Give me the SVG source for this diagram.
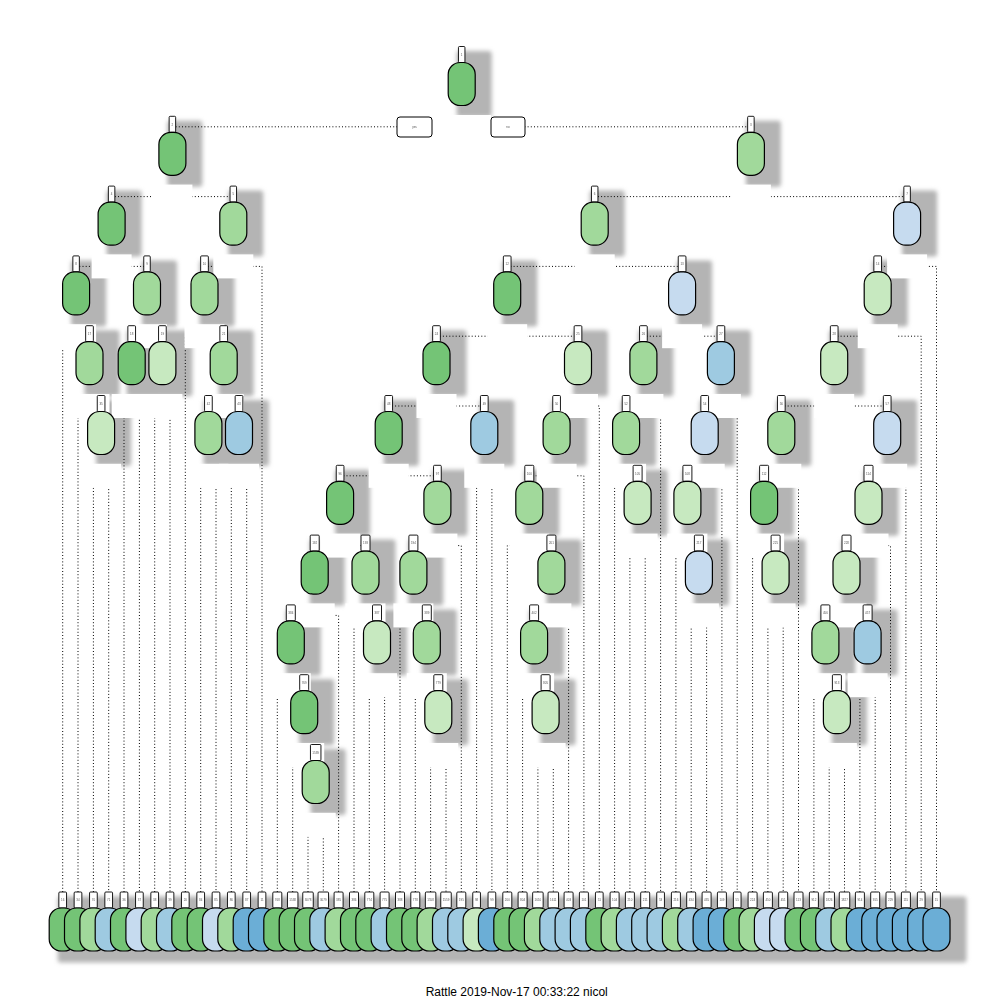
<svg xmlns="http://www.w3.org/2000/svg" xmlns:xlink="http://www.w3.org/1999/xlink" width="1000" height="1000" viewBox="0 0 1000 1000">
<style>
.ln{fill:none;stroke:#000;stroke-width:1;stroke-dasharray:1 2.2}
.tg{fill:#fff;stroke:#000;stroke-width:0.9}
.tt{font-family:"Liberation Sans",Arial,sans-serif;font-size:3px;fill:#555;text-anchor:middle}
.c1{fill:#74c476}.c2{fill:#a1d99b}.c3{fill:#c7e9c0}
.b1{fill:#6baed6}.b2{fill:#9ecae1}.b3{fill:#c6dbef}
.lbx{fill:#fff}
</style>
<defs>
<filter id="blur" x="-50%" y="-50%" width="200%" height="200%"><feGaussianBlur stdDeviation="2"/></filter>
<rect id="sh" x="-5" y="-33" width="35" height="66" rx="3"/>
<rect id="cap" x="-13.5" y="-21.5" width="27" height="43" rx="12" stroke="#000" stroke-width="1.2"/>
<rect id="t1" x="-3.25" y="-37.5" width="6.5" height="16" rx="1"/>
<rect id="t2" x="-3.85" y="-37.5" width="7.7" height="16" rx="1"/>
<rect id="t3" x="-4.5" y="-37.5" width="9" height="16" rx="1"/>
<rect id="t4" x="-5.25" y="-37.5" width="10.5" height="16" rx="1"/>
<rect id="lb" x="-20" y="-12" width="40" height="24"/>
</defs>
<rect width="1000" height="1000" fill="#fff"/>
<g id="shadows" fill="#b4b4b4" filter="url(#blur)">
<use href="#sh" x="461.7" y="84"/><use href="#sh" x="172.4" y="153.8"/><use href="#sh" x="750.9" y="153.8"/>
<use href="#sh" x="111.6" y="223.6"/><use href="#sh" x="233.3" y="223.6"/><use href="#sh" x="594.7" y="223.6"/><use href="#sh" x="907.1" y="223.6"/>
<use href="#sh" x="76.1" y="293.4"/><use href="#sh" x="147" y="293.4"/><use href="#sh" x="204.5" y="293.4"/><use href="#sh" x="507.2" y="293.4"/><use href="#sh" x="682.1" y="293.4"/><use href="#sh" x="877.7" y="293.4"/>
<use href="#sh" x="89.5" y="363.2"/><use href="#sh" x="131.7" y="363.2"/><use href="#sh" x="162.4" y="363.2"/><use href="#sh" x="223.7" y="363.2"/><use href="#sh" x="436.5" y="363.2"/><use href="#sh" x="578" y="363.2"/><use href="#sh" x="643.4" y="363.2"/><use href="#sh" x="720.9" y="363.2"/><use href="#sh" x="834.2" y="363.2"/>
<use href="#sh" x="101.1" y="433"/><use href="#sh" x="208.4" y="433"/><use href="#sh" x="239" y="433"/><use href="#sh" x="388.7" y="433"/><use href="#sh" x="484.3" y="433"/><use href="#sh" x="556.6" y="433"/><use href="#sh" x="626.1" y="433"/><use href="#sh" x="704.7" y="433"/><use href="#sh" x="781.3" y="433"/><use href="#sh" x="887.2" y="433"/>
<use href="#sh" x="340.1" y="502.8"/><use href="#sh" x="437.4" y="502.8"/><use href="#sh" x="529.3" y="502.8"/><use href="#sh" x="637.6" y="502.8"/><use href="#sh" x="687.4" y="502.8"/><use href="#sh" x="764.1" y="502.8"/><use href="#sh" x="868.5" y="502.8"/>
<use href="#sh" x="314.7" y="572.6"/><use href="#sh" x="365.5" y="572.6"/><use href="#sh" x="413.4" y="572.6"/><use href="#sh" x="551.4" y="572.6"/><use href="#sh" x="698.9" y="572.6"/><use href="#sh" x="775.6" y="572.6"/><use href="#sh" x="846.5" y="572.6"/>
<use href="#sh" x="290.8" y="642.4"/><use href="#sh" x="377" y="642.4"/><use href="#sh" x="426.8" y="642.4"/><use href="#sh" x="534.1" y="642.4"/><use href="#sh" x="825.4" y="642.4"/><use href="#sh" x="867.6" y="642.4"/>
<use href="#sh" x="304.2" y="712.2"/><use href="#sh" x="438.3" y="712.2"/><use href="#sh" x="545.6" y="712.2"/><use href="#sh" x="836.9" y="712.2"/>
<use href="#sh" x="315.7" y="782"/>
<rect x="57.7" y="896.5" width="908.8" height="66" rx="3"/>
</g>
<g id="connectors" class="ln">
<path d="M172.4 126.8H750.9"/>
<path d="M111.6 196.6H233.3M594.7 196.6H907.1"/>
<path d="M76.1 266.4H147M204.5 266.4H262V892M507.2 266.4H682.1M877.7 266.4H936.5V892"/>
<path d="M62.7 892V336.2H89.5M131.7 336.2H162.4M185.3 892V336.2H223.7M436.5 336.2H578M643.4 336.2H720.9M834.2 336.2H921.2V892"/>
<path d="M78 892V406H101.1M124 892V406H139.4V892M154.7 892V406H170V892M208.4 406H239M388.7 406H484.3M556.6 406H599.3V892M626.1 406H660.6V892M704.7 406H737.2V892M781.3 406H887.2"/>
<path d="M93.4 892V475.8H108.7V892M200.7 892V475.8H216V892M231.3 892V475.8H246.7V892M340.1 475.8H437.4M476.6 892V475.8H491.9V892M529.3 475.8H583.9V892M614.6 892V475.8H637.6M687.4 475.8H721.9V892M764.1 475.8H798.5V892M868.5 475.8H905.9V892"/>
<path d="M314.7 545.6H365.5M413.4 545.6H461.3V892M507.3 892V545.6H551.4M629.9 892V545.6H645.2V892M675.9 892V545.6H698.9M752.6 892V545.6H775.6M846.5 545.6H890.5V892"/>
<path d="M290.8 615.4H338.6V892M354 892V615.4H377M400 892V615.4H426.8M534.1 615.4H568.6V892M691.2 892V615.4H706.6V892M767.9 892V615.4H783.2V892M825.4 615.4H867.6"/>
<path d="M277.3 892V685.2H304.2M369.3 892V685.2H384.6V892M415.3 892V685.2H438.3M522.6 892V685.2H545.6M813.9 892V685.2H836.9M859.9 892V685.2H875.2V892"/>
<path d="M292.7 892V755H315.7M430.6 892V755H446V892M537.9 892V755H553.3V892M829.2 892V755H844.5V892"/>
<path d="M308 892V824.8H323.3V892"/>
</g>
<g id="labels" class="lbx">
<rect x="432" y="115" width="59" height="24"/>
<use href="#lb" x="172.4" y="196.6"/><use href="#lb" x="750.9" y="196.6"/>
<use href="#lb" x="111.6" y="266.4"/><use href="#lb" x="233.3" y="266.4"/><use href="#lb" x="594.7" y="266.4"/><use href="#lb" x="907.1" y="266.4"/>
<use href="#lb" x="76.1" y="336.2"/><use href="#lb" x="147" y="336.2"/><use href="#lb" x="204.5" y="336.2"/><use href="#lb" x="507.2" y="336.2"/><use href="#lb" x="682.1" y="336.2"/><use href="#lb" x="877.7" y="336.2"/>
<use href="#lb" x="89.5" y="406"/><use href="#lb" x="131.7" y="406"/><use href="#lb" x="162.4" y="406"/><use href="#lb" x="223.7" y="406"/><use href="#lb" x="436.5" y="406"/><use href="#lb" x="578" y="406"/><use href="#lb" x="643.4" y="406"/><use href="#lb" x="720.9" y="406"/><use href="#lb" x="834.2" y="406"/>
<use href="#lb" x="101.1" y="475.8"/><use href="#lb" x="208.4" y="475.8"/><use href="#lb" x="239" y="475.8"/><use href="#lb" x="388.7" y="475.8"/><use href="#lb" x="484.3" y="475.8"/><use href="#lb" x="556.6" y="475.8"/><use href="#lb" x="626.1" y="475.8"/><use href="#lb" x="704.7" y="475.8"/><use href="#lb" x="781.3" y="475.8"/><use href="#lb" x="887.2" y="475.8"/>
<use href="#lb" x="340.1" y="545.6"/><use href="#lb" x="437.4" y="545.6"/><use href="#lb" x="529.3" y="545.6"/><use href="#lb" x="637.6" y="545.6"/><use href="#lb" x="687.4" y="545.6"/><use href="#lb" x="764.1" y="545.6"/><use href="#lb" x="868.5" y="545.6"/>
<use href="#lb" x="314.7" y="615.4"/><use href="#lb" x="365.5" y="615.4"/><use href="#lb" x="413.4" y="615.4"/><use href="#lb" x="551.4" y="615.4"/><use href="#lb" x="698.9" y="615.4"/><use href="#lb" x="775.6" y="615.4"/><use href="#lb" x="846.5" y="615.4"/>
<use href="#lb" x="290.8" y="685.2"/><use href="#lb" x="377" y="685.2"/><use href="#lb" x="426.8" y="685.2"/><use href="#lb" x="534.1" y="685.2"/><use href="#lb" x="825.4" y="685.2"/><use href="#lb" x="867.6" y="685.2"/>
<use href="#lb" x="304.2" y="755"/><use href="#lb" x="438.3" y="755"/><use href="#lb" x="545.6" y="755"/><use href="#lb" x="836.9" y="755"/>
<use href="#lb" x="315.7" y="824.8"/>
</g>
<g id="yesno">
<rect x="397" y="117" width="35" height="20" rx="3" fill="#fff" stroke="#000" stroke-width="1"/>
<text class="tt" x="414.5" y="128">yes</text>
<rect x="491" y="117" width="34" height="20" rx="3" fill="#fff" stroke="#000" stroke-width="1"/>
<text class="tt" x="508" y="128">no</text>
</g>
<g id="nodes">
<g id="node-1" transform="translate(461.7,84)"><use href="#t1" class="tg"/><text class="tt" y="-28.3">1</text><use href="#cap" class="c1"/></g>
<g id="node-2" transform="translate(172.4,153.8)"><use href="#t1" class="tg"/><text class="tt" y="-28.3">2</text><use href="#cap" class="c1"/></g>
<g id="node-3" transform="translate(750.9,153.8)"><use href="#t1" class="tg"/><text class="tt" y="-28.3">3</text><use href="#cap" class="c2"/></g>
<g id="node-4" transform="translate(111.6,223.6)"><use href="#t1" class="tg"/><text class="tt" y="-28.3">4</text><use href="#cap" class="c1"/></g>
<g id="node-5" transform="translate(233.3,223.6)"><use href="#t1" class="tg"/><text class="tt" y="-28.3">5</text><use href="#cap" class="c2"/></g>
<g id="node-6" transform="translate(594.7,223.6)"><use href="#t1" class="tg"/><text class="tt" y="-28.3">6</text><use href="#cap" class="c2"/></g>
<g id="node-7" transform="translate(907.1,223.6)"><use href="#t1" class="tg"/><text class="tt" y="-28.3">7</text><use href="#cap" class="b3"/></g>
<g id="node-8" transform="translate(76.1,293.4)"><use href="#t1" class="tg"/><text class="tt" y="-28.3">8</text><use href="#cap" class="c1"/></g>
<g id="node-9" transform="translate(147,293.4)"><use href="#t1" class="tg"/><text class="tt" y="-28.3">9</text><use href="#cap" class="c2"/></g>
<g id="node-10" transform="translate(204.5,293.4)"><use href="#t2" class="tg"/><text class="tt" y="-28.3">10</text><use href="#cap" class="c2"/></g>
<g id="node-12" transform="translate(507.2,293.4)"><use href="#t2" class="tg"/><text class="tt" y="-28.3">12</text><use href="#cap" class="c1"/></g>
<g id="node-13" transform="translate(682.1,293.4)"><use href="#t2" class="tg"/><text class="tt" y="-28.3">13</text><use href="#cap" class="b3"/></g>
<g id="node-14" transform="translate(877.7,293.4)"><use href="#t2" class="tg"/><text class="tt" y="-28.3">14</text><use href="#cap" class="c3"/></g>
<g id="node-17" transform="translate(89.5,363.2)"><use href="#t2" class="tg"/><text class="tt" y="-28.3">17</text><use href="#cap" class="c2"/></g>
<g id="node-18" transform="translate(131.7,363.2)"><use href="#t2" class="tg"/><text class="tt" y="-28.3">18</text><use href="#cap" class="c1"/></g>
<g id="node-19" transform="translate(162.4,363.2)"><use href="#t2" class="tg"/><text class="tt" y="-28.3">19</text><use href="#cap" class="c3"/></g>
<g id="node-21" transform="translate(223.7,363.2)"><use href="#t2" class="tg"/><text class="tt" y="-28.3">21</text><use href="#cap" class="c2"/></g>
<g id="node-24" transform="translate(436.5,363.2)"><use href="#t2" class="tg"/><text class="tt" y="-28.3">24</text><use href="#cap" class="c1"/></g>
<g id="node-25" transform="translate(578,363.2)"><use href="#t2" class="tg"/><text class="tt" y="-28.3">25</text><use href="#cap" class="c3"/></g>
<g id="node-26" transform="translate(643.4,363.2)"><use href="#t2" class="tg"/><text class="tt" y="-28.3">26</text><use href="#cap" class="c2"/></g>
<g id="node-27" transform="translate(720.9,363.2)"><use href="#t2" class="tg"/><text class="tt" y="-28.3">27</text><use href="#cap" class="b2"/></g>
<g id="node-28" transform="translate(834.2,363.2)"><use href="#t2" class="tg"/><text class="tt" y="-28.3">28</text><use href="#cap" class="c3"/></g>
<g id="node-35" transform="translate(101.1,433)"><use href="#t2" class="tg"/><text class="tt" y="-28.3">35</text><use href="#cap" class="c3"/></g>
<g id="node-42" transform="translate(208.4,433)"><use href="#t2" class="tg"/><text class="tt" y="-28.3">42</text><use href="#cap" class="c2"/></g>
<g id="node-43" transform="translate(239,433)"><use href="#t2" class="tg"/><text class="tt" y="-28.3">43</text><use href="#cap" class="b2"/></g>
<g id="node-48" transform="translate(388.7,433)"><use href="#t2" class="tg"/><text class="tt" y="-28.3">48</text><use href="#cap" class="c1"/></g>
<g id="node-49" transform="translate(484.3,433)"><use href="#t2" class="tg"/><text class="tt" y="-28.3">49</text><use href="#cap" class="b2"/></g>
<g id="node-50" transform="translate(556.6,433)"><use href="#t2" class="tg"/><text class="tt" y="-28.3">50</text><use href="#cap" class="c2"/></g>
<g id="node-52" transform="translate(626.1,433)"><use href="#t2" class="tg"/><text class="tt" y="-28.3">52</text><use href="#cap" class="c2"/></g>
<g id="node-54" transform="translate(704.7,433)"><use href="#t2" class="tg"/><text class="tt" y="-28.3">54</text><use href="#cap" class="b3"/></g>
<g id="node-56" transform="translate(781.3,433)"><use href="#t2" class="tg"/><text class="tt" y="-28.3">56</text><use href="#cap" class="c2"/></g>
<g id="node-57" transform="translate(887.2,433)"><use href="#t2" class="tg"/><text class="tt" y="-28.3">57</text><use href="#cap" class="b3"/></g>
<g id="node-96" transform="translate(340.1,502.8)"><use href="#t2" class="tg"/><text class="tt" y="-28.3">96</text><use href="#cap" class="c1"/></g>
<g id="node-97" transform="translate(437.4,502.8)"><use href="#t2" class="tg"/><text class="tt" y="-28.3">97</text><use href="#cap" class="c2"/></g>
<g id="node-100" transform="translate(529.3,502.8)"><use href="#t3" class="tg"/><text class="tt" y="-28.3">100</text><use href="#cap" class="c2"/></g>
<g id="node-105" transform="translate(637.6,502.8)"><use href="#t3" class="tg"/><text class="tt" y="-28.3">105</text><use href="#cap" class="c3"/></g>
<g id="node-108" transform="translate(687.4,502.8)"><use href="#t3" class="tg"/><text class="tt" y="-28.3">108</text><use href="#cap" class="c3"/></g>
<g id="node-112" transform="translate(764.1,502.8)"><use href="#t3" class="tg"/><text class="tt" y="-28.3">112</text><use href="#cap" class="c1"/></g>
<g id="node-114" transform="translate(868.5,502.8)"><use href="#t3" class="tg"/><text class="tt" y="-28.3">114</text><use href="#cap" class="c3"/></g>
<g id="node-192" transform="translate(314.7,572.6)"><use href="#t3" class="tg"/><text class="tt" y="-28.3">192</text><use href="#cap" class="c1"/></g>
<g id="node-193" transform="translate(365.5,572.6)"><use href="#t3" class="tg"/><text class="tt" y="-28.3">193</text><use href="#cap" class="c2"/></g>
<g id="node-194" transform="translate(413.4,572.6)"><use href="#t3" class="tg"/><text class="tt" y="-28.3">194</text><use href="#cap" class="c2"/></g>
<g id="node-201" transform="translate(551.4,572.6)"><use href="#t3" class="tg"/><text class="tt" y="-28.3">201</text><use href="#cap" class="c2"/></g>
<g id="node-217" transform="translate(698.9,572.6)"><use href="#t3" class="tg"/><text class="tt" y="-28.3">217</text><use href="#cap" class="b3"/></g>
<g id="node-225" transform="translate(775.6,572.6)"><use href="#t3" class="tg"/><text class="tt" y="-28.3">225</text><use href="#cap" class="c3"/></g>
<g id="node-228" transform="translate(846.5,572.6)"><use href="#t3" class="tg"/><text class="tt" y="-28.3">228</text><use href="#cap" class="c3"/></g>
<g id="node-384" transform="translate(290.8,642.4)"><use href="#t3" class="tg"/><text class="tt" y="-28.3">384</text><use href="#cap" class="c1"/></g>
<g id="node-387" transform="translate(377,642.4)"><use href="#t3" class="tg"/><text class="tt" y="-28.3">387</text><use href="#cap" class="c3"/></g>
<g id="node-389" transform="translate(426.8,642.4)"><use href="#t3" class="tg"/><text class="tt" y="-28.3">389</text><use href="#cap" class="c2"/></g>
<g id="node-402" transform="translate(534.1,642.4)"><use href="#t3" class="tg"/><text class="tt" y="-28.3">402</text><use href="#cap" class="c2"/></g>
<g id="node-456" transform="translate(825.4,642.4)"><use href="#t3" class="tg"/><text class="tt" y="-28.3">456</text><use href="#cap" class="c2"/></g>
<g id="node-457" transform="translate(867.6,642.4)"><use href="#t3" class="tg"/><text class="tt" y="-28.3">457</text><use href="#cap" class="b2"/></g>
<g id="node-769" transform="translate(304.2,712.2)"><use href="#t3" class="tg"/><text class="tt" y="-28.3">769</text><use href="#cap" class="c1"/></g>
<g id="node-779" transform="translate(438.3,712.2)"><use href="#t3" class="tg"/><text class="tt" y="-28.3">779</text><use href="#cap" class="c3"/></g>
<g id="node-805" transform="translate(545.6,712.2)"><use href="#t3" class="tg"/><text class="tt" y="-28.3">805</text><use href="#cap" class="c3"/></g>
<g id="node-913" transform="translate(836.9,712.2)"><use href="#t3" class="tg"/><text class="tt" y="-28.3">913</text><use href="#cap" class="c3"/></g>
<g id="node-1539" transform="translate(315.7,782)"><use href="#t4" class="tg"/><text class="tt" y="-28.3">1539</text><use href="#cap" class="c2"/></g>
</g>
<g id="leaves">
<g id="node-16" transform="translate(62.7,929.5)"><use href="#t2" class="tg"/><text class="tt" y="-28.3">16</text><use href="#cap" class="c1"/></g>
<g id="node-34" transform="translate(78,929.5)"><use href="#t2" class="tg"/><text class="tt" y="-28.3">34</text><use href="#cap" class="c1"/></g>
<g id="node-70" transform="translate(93.4,929.5)"><use href="#t2" class="tg"/><text class="tt" y="-28.3">70</text><use href="#cap" class="c2"/></g>
<g id="node-71" transform="translate(108.7,929.5)"><use href="#t2" class="tg"/><text class="tt" y="-28.3">71</text><use href="#cap" class="b2"/></g>
<g id="node-36" transform="translate(124,929.5)"><use href="#t2" class="tg"/><text class="tt" y="-28.3">36</text><use href="#cap" class="c1"/></g>
<g id="node-37" transform="translate(139.4,929.5)"><use href="#t2" class="tg"/><text class="tt" y="-28.3">37</text><use href="#cap" class="b3"/></g>
<g id="node-38" transform="translate(154.7,929.5)"><use href="#t2" class="tg"/><text class="tt" y="-28.3">38</text><use href="#cap" class="c2"/></g>
<g id="node-39" transform="translate(170,929.5)"><use href="#t2" class="tg"/><text class="tt" y="-28.3">39</text><use href="#cap" class="b2"/></g>
<g id="node-20" transform="translate(185.3,929.5)"><use href="#t2" class="tg"/><text class="tt" y="-28.3">20</text><use href="#cap" class="c1"/></g>
<g id="node-84" transform="translate(200.7,929.5)"><use href="#t2" class="tg"/><text class="tt" y="-28.3">84</text><use href="#cap" class="c1"/></g>
<g id="node-85" transform="translate(216,929.5)"><use href="#t2" class="tg"/><text class="tt" y="-28.3">85</text><use href="#cap" class="b3"/></g>
<g id="node-86" transform="translate(231.3,929.5)"><use href="#t2" class="tg"/><text class="tt" y="-28.3">86</text><use href="#cap" class="c2"/></g>
<g id="node-87" transform="translate(246.7,929.5)"><use href="#t2" class="tg"/><text class="tt" y="-28.3">87</text><use href="#cap" class="b1"/></g>
<g id="node-11" transform="translate(262,929.5)"><use href="#t2" class="tg"/><text class="tt" y="-28.3">11</text><use href="#cap" class="b1"/></g>
<g id="node-768" transform="translate(277.3,929.5)"><use href="#t3" class="tg"/><text class="tt" y="-28.3">768</text><use href="#cap" class="c1"/></g>
<g id="node-1538" transform="translate(292.7,929.5)"><use href="#t4" class="tg"/><text class="tt" y="-28.3">1538</text><use href="#cap" class="c1"/></g>
<g id="node-3078" transform="translate(308,929.5)"><use href="#t4" class="tg"/><text class="tt" y="-28.3">3078</text><use href="#cap" class="c1"/></g>
<g id="node-3079" transform="translate(323.3,929.5)"><use href="#t4" class="tg"/><text class="tt" y="-28.3">3079</text><use href="#cap" class="b2"/></g>
<g id="node-385" transform="translate(338.6,929.5)"><use href="#t3" class="tg"/><text class="tt" y="-28.3">385</text><use href="#cap" class="c2"/></g>
<g id="node-386" transform="translate(354,929.5)"><use href="#t3" class="tg"/><text class="tt" y="-28.3">386</text><use href="#cap" class="c1"/></g>
<g id="node-774" transform="translate(369.3,929.5)"><use href="#t3" class="tg"/><text class="tt" y="-28.3">774</text><use href="#cap" class="c1"/></g>
<g id="node-775" transform="translate(384.6,929.5)"><use href="#t3" class="tg"/><text class="tt" y="-28.3">775</text><use href="#cap" class="b2"/></g>
<g id="node-388" transform="translate(400,929.5)"><use href="#t3" class="tg"/><text class="tt" y="-28.3">388</text><use href="#cap" class="c1"/></g>
<g id="node-778" transform="translate(415.3,929.5)"><use href="#t3" class="tg"/><text class="tt" y="-28.3">778</text><use href="#cap" class="c1"/></g>
<g id="node-1558" transform="translate(430.6,929.5)"><use href="#t4" class="tg"/><text class="tt" y="-28.3">1558</text><use href="#cap" class="c2"/></g>
<g id="node-1559" transform="translate(446,929.5)"><use href="#t4" class="tg"/><text class="tt" y="-28.3">1559</text><use href="#cap" class="b2"/></g>
<g id="node-195" transform="translate(461.3,929.5)"><use href="#t3" class="tg"/><text class="tt" y="-28.3">195</text><use href="#cap" class="b2"/></g>
<g id="node-98" transform="translate(476.6,929.5)"><use href="#t2" class="tg"/><text class="tt" y="-28.3">98</text><use href="#cap" class="c3"/></g>
<g id="node-99" transform="translate(491.9,929.5)"><use href="#t2" class="tg"/><text class="tt" y="-28.3">99</text><use href="#cap" class="b1"/></g>
<g id="node-200" transform="translate(507.3,929.5)"><use href="#t3" class="tg"/><text class="tt" y="-28.3">200</text><use href="#cap" class="c1"/></g>
<g id="node-804" transform="translate(522.6,929.5)"><use href="#t3" class="tg"/><text class="tt" y="-28.3">804</text><use href="#cap" class="c1"/></g>
<g id="node-1610" transform="translate(537.9,929.5)"><use href="#t4" class="tg"/><text class="tt" y="-28.3">1610</text><use href="#cap" class="c2"/></g>
<g id="node-1611" transform="translate(553.3,929.5)"><use href="#t4" class="tg"/><text class="tt" y="-28.3">1611</text><use href="#cap" class="b2"/></g>
<g id="node-403" transform="translate(568.6,929.5)"><use href="#t3" class="tg"/><text class="tt" y="-28.3">403</text><use href="#cap" class="b2"/></g>
<g id="node-101" transform="translate(583.9,929.5)"><use href="#t3" class="tg"/><text class="tt" y="-28.3">101</text><use href="#cap" class="b2"/></g>
<g id="node-51" transform="translate(599.3,929.5)"><use href="#t2" class="tg"/><text class="tt" y="-28.3">51</text><use href="#cap" class="c1"/></g>
<g id="node-104" transform="translate(614.6,929.5)"><use href="#t3" class="tg"/><text class="tt" y="-28.3">104</text><use href="#cap" class="c2"/></g>
<g id="node-210" transform="translate(629.9,929.5)"><use href="#t3" class="tg"/><text class="tt" y="-28.3">210</text><use href="#cap" class="b2"/></g>
<g id="node-211" transform="translate(645.2,929.5)"><use href="#t3" class="tg"/><text class="tt" y="-28.3">211</text><use href="#cap" class="b2"/></g>
<g id="node-53" transform="translate(660.6,929.5)"><use href="#t2" class="tg"/><text class="tt" y="-28.3">53</text><use href="#cap" class="b2"/></g>
<g id="node-216" transform="translate(675.9,929.5)"><use href="#t3" class="tg"/><text class="tt" y="-28.3">216</text><use href="#cap" class="c2"/></g>
<g id="node-434" transform="translate(691.2,929.5)"><use href="#t3" class="tg"/><text class="tt" y="-28.3">434</text><use href="#cap" class="b2"/></g>
<g id="node-435" transform="translate(706.6,929.5)"><use href="#t3" class="tg"/><text class="tt" y="-28.3">435</text><use href="#cap" class="b1"/></g>
<g id="node-109" transform="translate(721.9,929.5)"><use href="#t3" class="tg"/><text class="tt" y="-28.3">109</text><use href="#cap" class="b1"/></g>
<g id="node-55" transform="translate(737.2,929.5)"><use href="#t2" class="tg"/><text class="tt" y="-28.3">55</text><use href="#cap" class="c1"/></g>
<g id="node-224" transform="translate(752.6,929.5)"><use href="#t3" class="tg"/><text class="tt" y="-28.3">224</text><use href="#cap" class="c2"/></g>
<g id="node-450" transform="translate(767.9,929.5)"><use href="#t3" class="tg"/><text class="tt" y="-28.3">450</text><use href="#cap" class="b3"/></g>
<g id="node-451" transform="translate(783.2,929.5)"><use href="#t3" class="tg"/><text class="tt" y="-28.3">451</text><use href="#cap" class="b3"/></g>
<g id="node-113" transform="translate(798.5,929.5)"><use href="#t3" class="tg"/><text class="tt" y="-28.3">113</text><use href="#cap" class="c1"/></g>
<g id="node-912" transform="translate(813.9,929.5)"><use href="#t3" class="tg"/><text class="tt" y="-28.3">912</text><use href="#cap" class="c1"/></g>
<g id="node-1826" transform="translate(829.2,929.5)"><use href="#t4" class="tg"/><text class="tt" y="-28.3">1826</text><use href="#cap" class="b2"/></g>
<g id="node-1827" transform="translate(844.5,929.5)"><use href="#t4" class="tg"/><text class="tt" y="-28.3">1827</text><use href="#cap" class="c2"/></g>
<g id="node-914" transform="translate(859.9,929.5)"><use href="#t3" class="tg"/><text class="tt" y="-28.3">914</text><use href="#cap" class="b1"/></g>
<g id="node-915" transform="translate(875.2,929.5)"><use href="#t3" class="tg"/><text class="tt" y="-28.3">915</text><use href="#cap" class="b1"/></g>
<g id="node-229" transform="translate(890.5,929.5)"><use href="#t3" class="tg"/><text class="tt" y="-28.3">229</text><use href="#cap" class="b1"/></g>
<g id="node-115" transform="translate(905.9,929.5)"><use href="#t3" class="tg"/><text class="tt" y="-28.3">115</text><use href="#cap" class="b1"/></g>
<g id="node-29" transform="translate(921.2,929.5)"><use href="#t2" class="tg"/><text class="tt" y="-28.3">29</text><use href="#cap" class="b1"/></g>
<g id="node-15" transform="translate(936.5,929.5)"><use href="#t2" class="tg"/><text class="tt" y="-28.3">15</text><use href="#cap" class="b1"/></g>
</g>
<text x="516.7" y="996" font-family="'Liberation Sans',Arial,sans-serif" font-size="12" text-anchor="middle" fill="#000">Rattle 2019-Nov-17 00:33:22 nicol</text>
</svg>
